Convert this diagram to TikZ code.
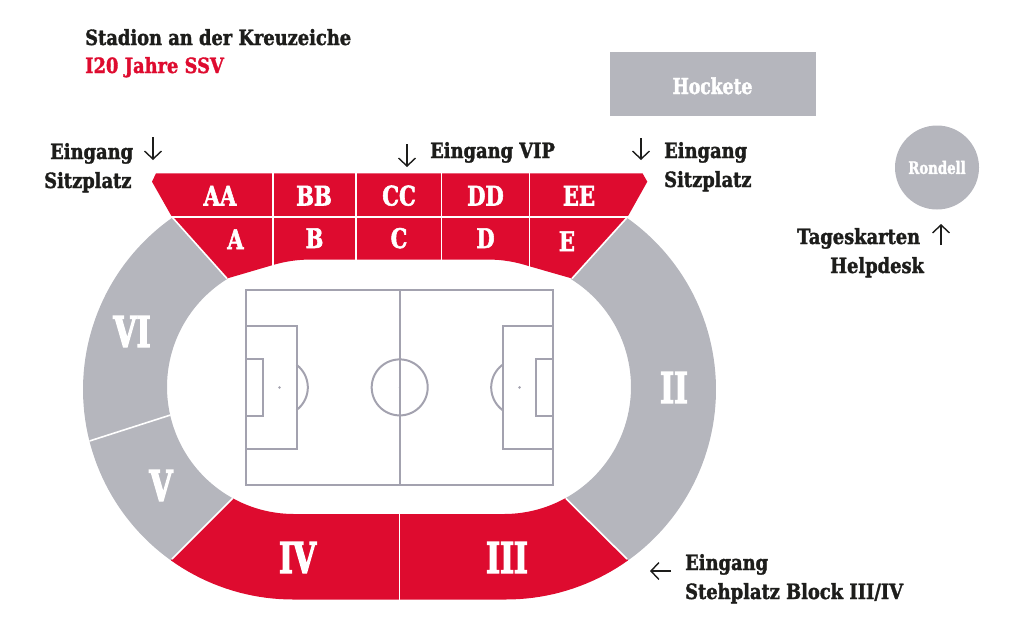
\documentclass[tikz,border=0pt]{standalone}
\usepackage{fontspec}
\usetikzlibrary{arrows.meta}
\newfontfamily\slab[UprightFont=* Bold,FakeStretch=0.85,FakeBold=1.6]{DejaVu Serif}
\newfontfamily\slabm[UprightFont=* Bold,FakeStretch=0.78,FakeBold=2]{DejaVu Serif}
\newfontfamily\slabc[UprightFont=* Bold,FakeStretch=0.70,FakeBold=3]{DejaVu Serif}
\definecolor{ssvred}{HTML}{DE0B2F}
\definecolor{standgrey}{HTML}{B5B6BD}
\definecolor{linegrey}{HTML}{A3A2AF}
\definecolor{ink}{HTML}{1D1D1B}
\tikzset{
  x=1pt,y=-1pt,
  txt/.style={anchor=base west,inner sep=0pt,text=ink,font=\slab\fontsize{21}{24}\selectfont},
  seat/.style={inner sep=0pt,text=white,font=\slabm\fontsize{27}{30}\selectfont},
  big/.style={inner sep=0pt,text=white,font=\slabc\fontsize{42.5}{46}\selectfont},
  pitch/.style={draw=linegrey,line width=2pt,fill=none},
  gap/.style={draw=white,line width=1.6pt},
  arr/.style={draw=ink,line width=1.4pt,-{Straight Barb[length=8pt,width=17pt]}},
}
\begin{document}
\begin{tikzpicture}
\useasboundingbox (0,0) rectangle (1024,632);
% top red block
\fill[ssvred] (152,181.7) -- (156,173.3) -- (642.5,173.3) -- (647.3,181.7) -- (627.5,217)
  -- (572,278.5) -- (529.5,266.3) .. controls (516,262) and (503,259.5) .. (487,259.5)
  -- (312,259.5) .. controls (297,259.5) and (285,261.5) .. (273,265) -- (227,278.5) -- (172,217) -- cycle;
% grey stands left
\fill[standgrey] (172,217) -- (227,278.5)
  -- plot[domain=238.2:180,samples=40] ({294+127*cos(\x)},{387+127*sin(\x)})
  -- plot[domain=180:118.9,samples=40] ({294+127*cos(\x)},{387+127*sin(\x)})
  -- (172,559)
  -- plot[domain=125.5:234.9,samples=60] ({293+210*cos(\x)},{389.5+210*sin(\x)}) -- cycle;
% grey stand right
\fill[standgrey] (627.5,217) -- (572,278.5)
  -- plot[domain=-58:61,samples=60] ({504+127*cos(\x)},{387+127*sin(\x)})
  -- (627,559)
  -- plot[domain=54.5:-55,samples=60] ({506+210*cos(\x)},{389.5+210*sin(\x)}) -- cycle;
% red bottom
\fill[ssvred] (232.7,498.3)
  -- plot[domain=118.9:90,samples=20] ({294+127*cos(\x)},{387+127*sin(\x)})
  -- plot[domain=90:61,samples=20] ({504+127*cos(\x)},{387+127*sin(\x)})
  -- (627,559)
  -- plot[domain=54.5:90,samples=20] ({506+210*cos(\x)},{389.5+210*sin(\x)})
  -- plot[domain=90:125.5,samples=20] ({293+210*cos(\x)},{389.5+210*sin(\x)})
  -- (172,559) -- cycle;
% dividers
\draw[gap] (170,217) -- (629.5,217);
\foreach \v/\e in {273/266,356/261,441.5/261,529.5/268}{\draw[gap] (\v,172) -- (\v,\e);}
\draw[gap] (172,217) -- (227,278.5);
\draw[gap] (627.5,217) -- (572,278.5);
\draw[gap] (89.5,441) -- (170.5,415);
\draw[gap] (172,559) -- (232.7,498.3);
\draw[gap] (627,559) -- (565.7,498.3);
\draw[gap] (399.3,513) -- (399.3,601);
% pitch
\draw[pitch] (246,289.7) rectangle (553.3,485);
\draw[pitch] (399.7,289.7) -- (399.7,485);
\draw[pitch] (246,326) rectangle (296.5,448.7);
\draw[pitch] (246,359.3) rectangle (263,415.5);
\draw[pitch] (553.3,326) rectangle (502.7,448.7);
\draw[pitch] (553.3,359.3) rectangle (535.7,415.5);
\draw[pitch] plot[domain=0:360,samples=90] ({399.7+28*cos(\x)},{387.4+28*sin(\x)});
\draw[pitch] plot[domain=-53:53,samples=30] ({279.5+28.3*cos(\x)},{387.4+28.3*sin(\x)});
\draw[pitch] plot[domain=127:233,samples=30] ({519.5+28.3*cos(\x)},{387.4+28.3*sin(\x)});
\fill[linegrey] (279.5,387.4) circle[radius=1.4];
\fill[linegrey] (519.5,387.4) circle[radius=1.4];
\fill[linegrey] (399.7,387.4) circle[radius=1];
% seat labels
\node[seat,anchor=base] (aa) at (220,205.5) {AA};
\node[seat,anchor=base] (bb) at (314,205.5) {BB};
\node[seat,anchor=base] (cc) at (399,205.5) {CC};
\node[seat,anchor=base] (dd) at (485.5,205.5) {DD};
\node[seat,anchor=base] (ee) at (579,205.5) {EE};
\node[seat,anchor=base] (a) at (235.5,249) {A};
\node[seat,anchor=base] (b) at (314.5,248) {B};
\node[seat,anchor=base] (c) at (399,248) {C};
\node[seat,anchor=base] (d) at (485.5,248) {D};
\node[seat,anchor=base] (e) at (567,251) {E};
\node[big,anchor=base] (vi) at (132,347) {VI};
\node[big,anchor=base] (ii) at (674,403) {II};
\node[big,anchor=base] (v) at (161,501) {V};
\node[big,anchor=base] (iv) at (297.5,573) {IV};
\node[big,anchor=base] (iii) at (507,573) {III};
% hockete and rondell
\node[fill=standgrey,minimum width=206pt,minimum height=64pt,inner sep=0pt,text=white,font=\slabm\fontsize{22}{24}\selectfont] (hockete) at (712.5,84) {\raisebox{-10pt}[0pt][0pt]{Hockete}};
\node[circle,fill=standgrey,minimum size=84pt,inner sep=0pt,text=white,font=\slabm\fontsize{17}{18}\selectfont] (rondell) at (937,167.5) {Rondell};
% text
\node[txt] (t1) at (85,45) {Stadion an der Kreuzeiche};
\node[txt,text=ssvred] (t2) at (85,73) {I20 Jahre SSV};
\node[txt] (l1) at (50,159) {Eingang};
\node[txt] (l2) at (44,188) {Sitzplatz};
\node[txt] (vip) at (430,158) {Eingang VIP};
\node[txt] (r1) at (664,158) {Eingang};
\node[txt] (r2) at (664,187) {Sitzplatz};
\node[txt] (tk) at (797,244) {Tageskarten};
\node[txt] (hd) at (830,273) {Helpdesk};
\node[txt] (s1) at (685,570) {Eingang};
\node[txt] (s2) at (685,599) {Stehplatz Block III/IV};
% arrows
\coordinate (a1s) at (153,137); \coordinate (a1e) at (153,160);
\coordinate (a2s) at (407,144); \coordinate (a2e) at (407,167);
\coordinate (a3s) at (641,138); \coordinate (a3e) at (641,160);
\coordinate (a4s) at (941,245); \coordinate (a4e) at (941,224);
\coordinate (a5s) at (671,571); \coordinate (a5e) at (650,571);
\draw[arr] (a1s) -- (a1e);
\draw[arr] (a2s) -- (a2e);
\draw[arr] (a3s) -- (a3e);
\draw[arr] (a4s) -- (a4e);
\draw[arr] (a5s) -- (a5e);
\end{tikzpicture}
\end{document}
